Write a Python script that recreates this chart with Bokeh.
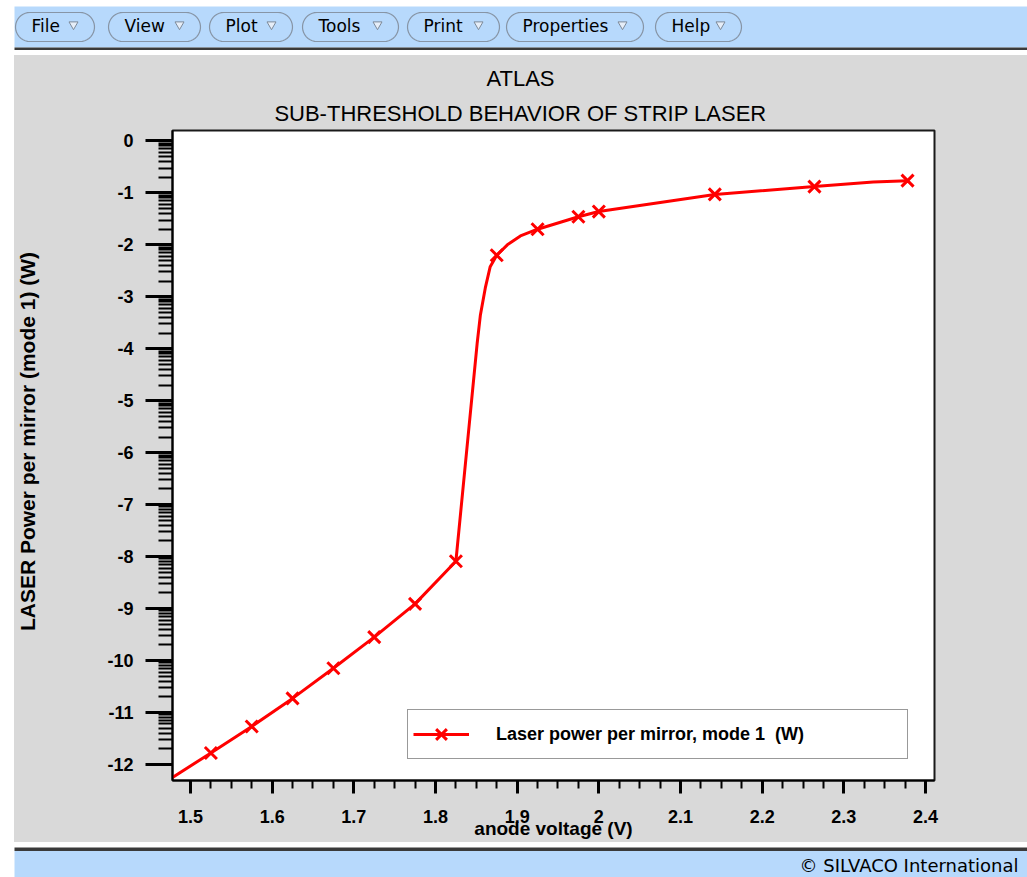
import math
import numpy as np
from bokeh.plotting import figure
from bokeh.models import Range1d, FixedTicker, Legend, LegendItem, Spacer
from bokeh.layouts import column, row
from bokeh.core.properties import value
from bokeh.embed import file_html
from bokeh.resources import INLINE

# ---------------- data ----------------
title_top = "ATLAS"
title_main = "SUB-THRESHOLD BEHAVIOR OF STRIP LASER"
x_label = "anode voltage (V)"
y_label = "LASER Power per mirror (mode 1) (W)"
series_name = "Laser power per mirror, mode 1  (W)"
menu_labels = ["File", "View", "Plot", "Tools", "Print", "Properties", "Help"]
footer_text = "\u00a9 SILVACO International"

# samples drawn with a marker
anode_v_marked = [1.525, 1.575, 1.625, 1.675, 1.725, 1.775, 1.825, 1.875,
                  1.925, 1.975, 2.0, 2.142, 2.264, 2.378]
log_power_marked = [-11.78, -11.27, -10.73, -10.15, -9.55, -8.91, -8.09, -2.20,
                    -1.70, -1.46, -1.36, -1.03, -0.88, -0.765]

# every vertex of the curve (marked and unmarked samples)
anode_v_curve = [1.478, 1.525, 1.575, 1.625, 1.675, 1.725, 1.775, 1.825,
                 1.851, 1.855, 1.861, 1.867, 1.875, 1.888, 1.904, 1.925,
                 1.975, 2.0, 2.142, 2.264, 2.336, 2.378]
log_power_curve = [-12.25, -11.78, -11.27, -10.73, -10.15, -9.55, -8.91, -8.09,
                   -3.90, -3.35, -2.83, -2.42, -2.20, -2.00, -1.83, -1.70,
                   -1.46, -1.36, -1.03, -0.88, -0.79, -0.765]

x_ticks = [1.5, 1.6, 1.7, 1.8, 1.9, 2.0, 2.1, 2.2, 2.3, 2.4]
x_tick_labels = ["1.5", "1.6", "1.7", "1.8", "1.9", "2", "2.1", "2.2", "2.3", "2.4"]
y_ticks = [0, -1, -2, -3, -4, -5, -6, -7, -8, -9, -10, -11, -12]
y_tick_labels = ["0", "-1", "-2", "-3", "-4", "-5", "-6", "-7", "-8", "-9",
                 "-10", "-11", "-12"]

# ---------------- styles ----------------
BLUE = "#b7d9fc"
GRAY = "#d9d9d9"
RED = "#ff0000"
DARK = "#3a3a3a"
FONT = "Liberation Sans"
UI_FONT = "DejaVu Sans"


def deco_figure(w, h, x0, x1, y0, y1, bg, **kw):
    f = figure(width=w, height=h, x_range=Range1d(x0, x1), y_range=Range1d(y0, y1),
               output_backend="svg", toolbar_location=None,
               x_axis_location=None, y_axis_location=None,
               background_fill_color=bg, border_fill_color=bg, outline_line_color=None, **kw)
    f.grid.visible = False
    return f


# ---------------- menu bar (page rows 0..55) ----------------
menu = deco_figure(1027, 55, 0, 1027, 55, 0, "white", min_border=0)
menu.quad(left=[14], right=[1027], top=[6], bottom=[47], fill_color=BLUE, line_color=None)
menu.quad(left=[14], right=[1027], top=[47], bottom=[49.5], fill_color=DARK, line_color=None)

btn_spans = [(15, 94), (108, 200), (209, 292), (302, 398), (407, 499), (506, 643), (655, 741)]
bx, by = [], []
for x0, x1 in btn_spans:
    y0, y1 = 12.0, 41.0
    r = (y1 - y0) / 2
    cy = (y0 + y1) / 2
    t1 = np.linspace(-math.pi / 2, math.pi / 2, 20)
    t2 = np.linspace(math.pi / 2, 3 * math.pi / 2, 20)
    xs = list(x1 - r + r * np.cos(t1)) + list(x0 + r + r * np.cos(t2))
    ys = list(cy + r * np.sin(t1)) + list(cy + r * np.sin(t2))
    bx.append(xs)
    by.append(ys)
menu.patches(bx, by, fill_color=BLUE, line_color="#8795a6", line_width=1.2)
menu.text(x=[s[0] + 16 for s in btn_spans], y=[25] * len(btn_spans), text=menu_labels,
          text_font=value(UI_FONT), text_font_size="17px", text_color="black",
          text_baseline="middle", text_align="left")
menu.scatter(x=[s[1] - 21 for s in btn_spans], y=[24] * len(btn_spans),
             marker="inverted_triangle", size=9, fill_color="#e6eef8", line_color="#7d8a99",
             line_width=1)

# ---------------- title strip (page rows 55..128, cols 14..1027) ----------------
tstrip = deco_figure(1013, 73, 14, 1027, 0, 73, GRAY, min_border=0)
tstrip.text(x=[520, 520], y=[128 - 78, 128 - 113], text=[title_top, title_main],
            text_font=value(FONT), text_font_size="22px", text_color="black",
            text_align="center", text_baseline="middle")

# ---------------- y label strip (page rows 128..842, cols 14..54) ----------------
# its frame spans page rows 130..780, mapped to 712..62 (i.e. value = 842 - page row)
ystrip = deco_figure(40, 714, 14, 54, 62, 712, GRAY,
                     min_border_left=0, min_border_right=0,
                     min_border_top=2, min_border_bottom=62)
ystrip.text(x=[27], y=[842 - 441], text=[y_label], angle=math.pi / 2,
            text_font=value(FONT), text_font_style="bold", text_font_size="21px",
            text_color="black", text_align="center", text_baseline="middle")

# ---------------- main plot (page rows 128..842, cols 54..1027) ----------------
p = figure(width=973, height=714, x_range=Range1d(1.478, 2.411), y_range=Range1d(-12.31, 0.2),
           output_backend="svg", toolbar_location=None,
           min_border_left=118, min_border_right=93, min_border_top=2, min_border_bottom=62,
           background_fill_color="white", border_fill_color=GRAY,
           outline_line_color="#1a1a1a", outline_line_width=2)
p.grid.visible = False

x_minor = [round(1.5 + 0.025 * i, 4) for i in range(0, 37)]
y_minor = [n + math.log10(k) for n in range(-12, 0) for k in range(2, 10)]
p.xaxis.ticker = FixedTicker(ticks=x_ticks, minor_ticks=x_minor)
p.yaxis.ticker = FixedTicker(ticks=y_ticks, minor_ticks=y_minor)
p.xaxis.major_label_overrides = {t: l for t, l in zip(x_ticks, x_tick_labels)}
p.yaxis.major_label_overrides = {t: l for t, l in zip(y_ticks, y_tick_labels)}

for ax in (p.xaxis[0], p.yaxis[0]):
    ax.axis_line_color = "black"
    ax.axis_line_width = 2
    ax.major_tick_line_color = "black"
    ax.minor_tick_line_color = "black"
    ax.major_tick_in = 0
    ax.minor_tick_in = 0
    ax.major_tick_line_width = 3
    ax.minor_tick_line_width = 2
    ax.major_label_text_font = FONT
    ax.major_label_text_font_style = "bold"
    ax.major_label_text_font_size = "18px"
    ax.major_label_text_color = "black"

p.xaxis.major_tick_out = 13
p.xaxis.minor_tick_out = 8
p.xaxis.major_label_standoff = 16
p.yaxis.major_tick_out = 27
p.yaxis.minor_tick_out = 14
p.yaxis.major_label_standoff = 12

p.xaxis.axis_label = x_label
p.xaxis.axis_label_standoff = -8
p.xaxis.axis_label_text_font = FONT
p.xaxis.axis_label_text_font_style = "bold"
p.xaxis.axis_label_text_font_size = "19px"
p.xaxis.axis_label_text_color = "black"

line_r = p.line(anode_v_curve, log_power_curve, line_color=RED, line_width=3)
pts_r = p.scatter(anode_v_marked, log_power_marked, marker="x", size=17,
                  line_color=RED, line_width=3)

legend = Legend(items=[LegendItem(label=series_name, renderers=[line_r, pts_r])],
                location=(235, 21), orientation="vertical", padding=5, margin=0, spacing=0,
                glyph_width=56, glyph_height=38, label_standoff=27, label_width=406,
                label_height=38, label_text_font=FONT, label_text_font_style="bold",
                label_text_font_size="18px", label_text_color="black",
                border_line_color="#333333", border_line_width=1.5,
                background_fill_color="white", background_fill_alpha=1.0)
p.add_layout(legend)

# ---------------- footer (page rows 842..877) ----------------
footer = deco_figure(1027, 35, 0, 1027, 877, 842, "white", min_border=0)
footer.quad(left=[14], right=[1027], top=[847], bottom=[850.5], fill_color=DARK, line_color=None)
footer.quad(left=[14], right=[1027], top=[850.5], bottom=[877], fill_color=BLUE, line_color=None)
footer.text(x=[1018], y=[865], text=[footer_text], text_font=value(UI_FONT),
            text_font_size="18px", text_color="black", text_align="right",
            text_baseline="middle")

panel = column(tstrip, row(ystrip, p, styles={"background-color": GRAY}),
               styles={"background-color": GRAY})

page = column(
    menu,
    row(Spacer(width=14, height=787), panel),
    footer,
)

open("out.html", "w").write(file_html(page, INLINE))
